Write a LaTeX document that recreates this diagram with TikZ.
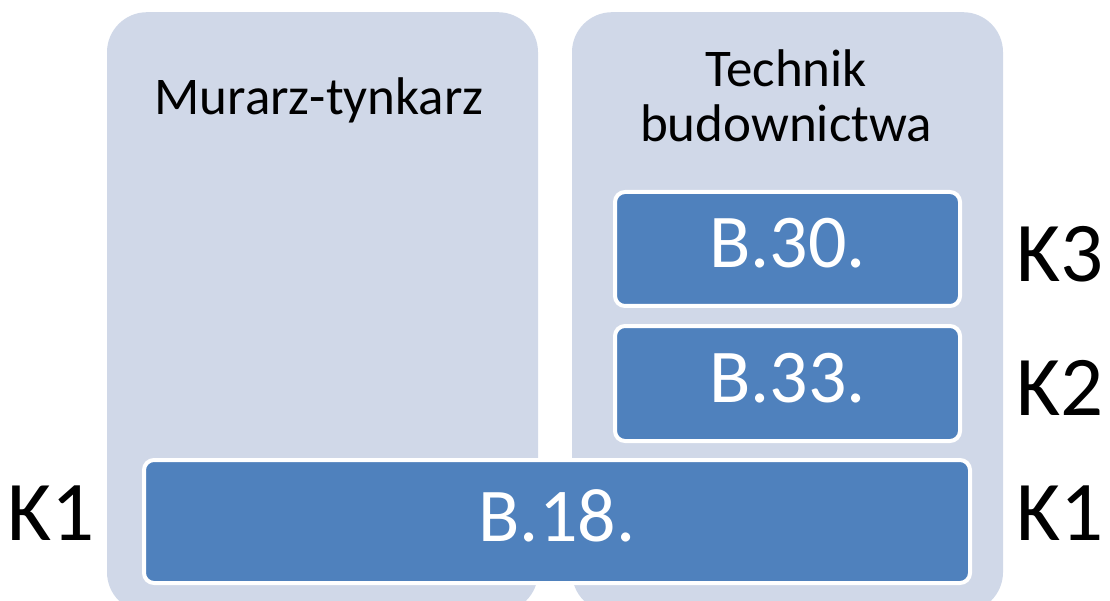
\documentclass[tikz,border=0pt]{standalone}
\usepackage{fontspec}
\setmainfont{Carlito}
\definecolor{tlo}{HTML}{D0D8E8}
\definecolor{niebieski}{HTML}{4F81BD}
\begin{document}
\begin{tikzpicture}[x=1pt, y=-1pt,
        panel/.style = {fill=tlo, rounded corners=40pt, minimum width=431pt, minimum height=600pt, anchor=north, inner sep=0pt},
        tytul/.style = {font=\fontsize{53}{55}\selectfont, align=center, inner sep=0pt},
        blok/.style = {draw=white, line width=4pt, fill=niebieski, rounded corners=10pt, text=white,
                       font=\fontsize{76}{76}\selectfont, text depth=12pt, inner sep=0pt},
        poziom/.style = {font=\fontsize{85}{85}\selectfont, inner sep=0pt, anchor=base}]
    \useasboundingbox (0, 0) rectangle (1110, 601);
    \clip (0, 0) rectangle (1110, 601);
    % kolumny zawodow
    \node[panel] (murarz) at (322.5, 12) {};
    \node[panel] (technik) at (787.5, 12) {};
    \node[tytul, anchor=base] (tmurarz) at (319, 115) {Murarz-tynkarz};
    \node[tytul, anchor=base] (ttechnik) at (786, 142) {Technik\\budownictwa};
    % kwalifikacje
    \node[blok, minimum width=345pt, minimum height=114pt] (b30) at (787.5, 249) {B.30.};
    \node[blok, minimum width=345pt, minimum height=115pt] (b33) at (787.5, 383.5) {B.33.};
    \node[blok, minimum width=826pt, minimum height=123pt] (b18) at (557, 521.5) {B.18.};
    \foreach \n/\y in {3/282, 2/415, 1/540} {\node[poziom] (k\n) at (1060, \y) {K\n};};
    \node[poziom] (k1l) at (51, 540) {K1};
\end{tikzpicture}
\end{document}
